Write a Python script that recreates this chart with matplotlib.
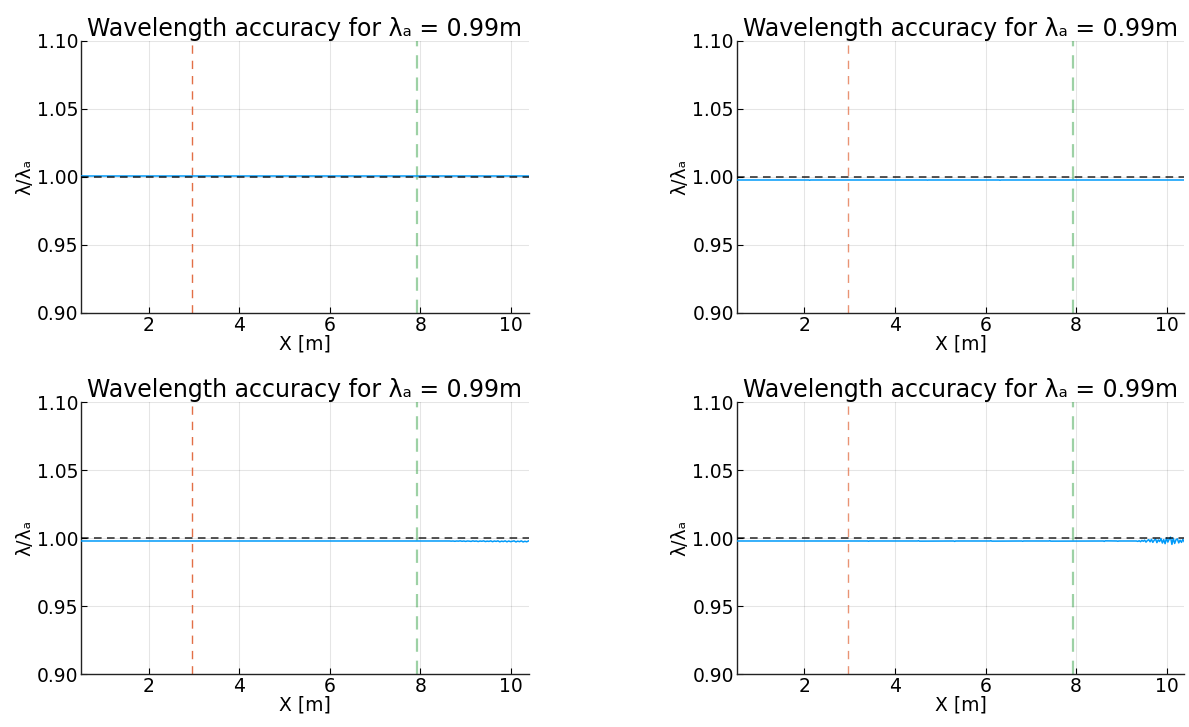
import numpy as np
import matplotlib.pyplot as plt

# --- Wavelength ratio lambda / lambda_a along the domain, one series per run ---
x_min, x_max = 0.51, 10.384
x_marker_left = 2.96     # start of measurement zone
x_marker_right = 7.92    # end of measurement zone
ref_ratio = 1.0

# run 1: flat, slightly above the reference
x1 = [0.51, 2.0, 4.0, 6.0, 8.0, 10.384]
y1 = [1.0005, 1.0005, 1.0005, 1.0005, 1.0005, 1.0005]

# run 2: flat, slightly below the reference, a few tiny blips
x2 = [0.51, 2.1, 2.12, 2.14, 4.7, 4.72, 4.74, 6.3, 6.32, 6.34, 10.384]
y2 = [0.9978, 0.9978, 0.9976, 0.9978, 0.9978, 0.9977, 0.9978, 0.9978, 0.9976, 0.9978, 0.9978]

# run 3: flat, then growing wiggle towards the right boundary
x3_flat = [0.51, 4.0, 8.0, 8.60]
y3_flat = [0.9978, 0.9978, 0.9978, 0.9978]
y3_noisy = [0.9978, 0.9977, 0.9978, 0.9976, 0.9978, 0.9977, 0.9979, 0.9976,
            0.9978, 0.9975, 0.9978, 0.9977, 0.9975, 0.9979, 0.9976, 0.9978,
            0.9974, 0.9978, 0.9976, 0.9979, 0.9974, 0.9977, 0.9975, 0.9979,
            0.9973, 0.9978, 0.9975, 0.9979, 0.9972, 0.9977, 0.9974, 0.9979,
            0.9972, 0.9978, 0.9973, 0.9976, 0.9979, 0.9971, 0.9977, 0.9973,
            0.9979, 0.9971, 0.9976, 0.9972, 0.9978]

# run 4: sparse blips, then strong wiggle past x ~ 9.3
x4_flat = [0.51, 3.4, 3.42, 3.44, 4.5, 4.52, 4.54, 5.3, 5.32, 5.34, 6.1, 6.12,
           6.14, 6.8, 6.82, 6.84, 7.4, 7.42, 7.44, 8.6, 8.62, 8.64, 8.9, 8.92,
           8.94, 9.30]
y4_flat = [0.9978, 0.9978, 0.9976, 0.9978, 0.9978, 0.9980, 0.9977, 0.9978,
           0.9975, 0.9978, 0.9978, 0.9980, 0.9977, 0.9978, 0.9976, 0.9978,
           0.9978, 0.9980, 0.9977, 0.9978, 0.9975, 0.9979, 0.9978, 0.9976,
           0.9978, 0.9978]
y4_noisy = [0.9978, 0.9975, 0.9980, 0.9973, 0.9982, 0.9976, 0.9984, 0.9970,
            0.9981, 0.9988, 0.9972, 0.9990, 0.9968, 0.9983, 0.9993, 0.9966,
            0.9986, 0.9974, 0.9996, 0.9963, 0.9988, 0.9958, 1.0000, 0.9970,
            0.9992, 1.0006, 0.9953, 0.9998, 0.9960, 0.9987, 0.9994, 0.9964,
            0.9984, 0.9968, 0.9990, 0.9973]

x3 = x3_flat + list(np.linspace(8.64, 10.384, len(y3_noisy)))
y3 = y3_flat + y3_noisy
x4 = x4_flat + list(np.linspace(9.33, 10.384, len(y4_noisy)))
y4 = y4_flat + y4_noisy

series = [(x1, y1), (x2, y2), (x3, y3), (x4, y4)]
marker_alpha = [1.0, 0.75, 1.0, 0.75]

y_ticks = [0.90, 0.95, 1.00, 1.05, 1.10]
x_ticks = [2, 4, 6, 8, 10]

blue = '#009af9'
orange = '#e26f46'
green = '#3da44d'

fig = plt.figure(figsize=(11.89, 7.27), dpi=100)
W, H = 1189, 727
lefts = [81, 736.7, 81, 736.7]
tops = [41, 41, 402, 402]
ax_w, ax_h = 447.5, 272

for i, (xs, ys) in enumerate(series):
    ax = fig.add_axes([lefts[i] / W, 1 - (tops[i] + ax_h) / H, ax_w / W, ax_h / H])
    ax.plot(xs, ys, color=blue, linewidth=1.1, zorder=3)
    ax.axhline(ref_ratio, color='black', linestyle=(0, (5, 3.5)), linewidth=1.1,
               alpha=0.85, zorder=4)
    ax.axvline(x_marker_left, color=orange, linestyle=(0, (6, 5)), linewidth=1.0,
               alpha=marker_alpha[i], zorder=2)
    ax.axvline(x_marker_right, color=green, linestyle=(0, (6, 4)), linewidth=1.6,
               alpha=0.5, zorder=2)

    ax.set_xlim(x_min, x_max)
    ax.set_ylim(0.90, 1.10)
    ax.set_xticks(x_ticks)
    ax.set_yticks(y_ticks)
    ax.set_yticklabels([f'{t:.2f}' for t in y_ticks])
    ax.tick_params(direction='in', length=4, width=0.8, labelsize=13.5, pad=2)
    ax.grid(True, color='black', alpha=0.1, linewidth=0.8)
    ax.set_axisbelow(True)
    for side in ('top', 'right'):
        ax.spines[side].set_visible(False)
    for side in ('left', 'bottom'):
        ax.spines[side].set_linewidth(1.0)
        ax.spines[side].set_color('#222222')

    ax.set_title('Wavelength accuracy for λₐ = 0.99m', fontsize=17, pad=3)
    ax.set_xlabel('X [m]', fontsize=13.5, labelpad=0)
    ax.set_ylabel('λ/λₐ', fontsize=13.5, labelpad=2)

plt.savefig('out.png', dpi=100)
